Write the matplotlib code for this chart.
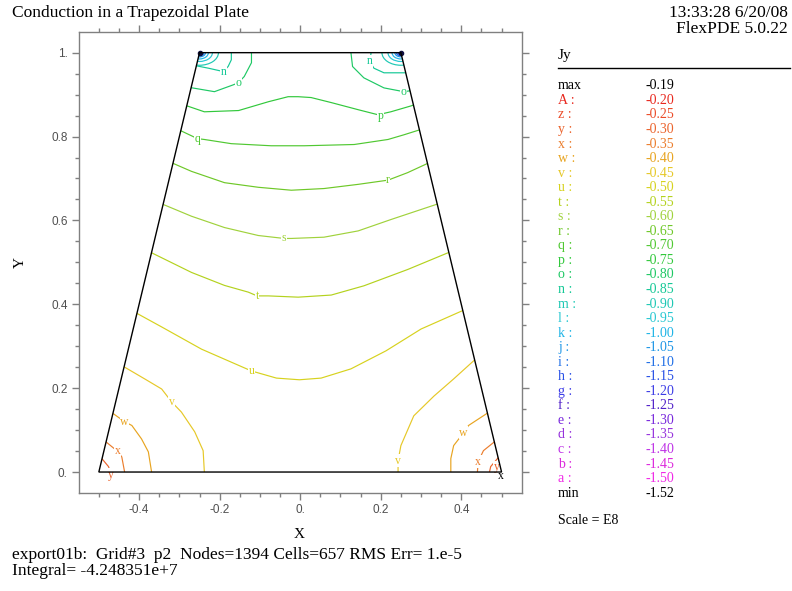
import matplotlib
matplotlib.use("Agg")
import matplotlib.pyplot as plt
from matplotlib.patches import Polygon, Ellipse
from matplotlib.lines import Line2D

# contour levels of Jy (scale E8)
level_names = ["A", "z", "y", "x", "w", "v", "u", "t", "s", "r", "q", "p", "o",
               "n", "m", "l", "k", "j", "i", "h", "g", "f", "e", "d", "c", "b", "a"]
level_values = ["-0.20", "-0.25", "-0.30", "-0.35", "-0.40", "-0.45", "-0.50",
                "-0.55", "-0.60", "-0.65", "-0.70", "-0.75", "-0.80", "-0.85",
                "-0.90", "-0.95", "-1.00", "-1.05", "-1.10", "-1.15", "-1.20",
                "-1.25", "-1.30", "-1.35", "-1.40", "-1.45", "-1.50"]
level_colors = ["#e8281e", "#eb4b28", "#eb642d", "#eb7d2d", "#e8a420", "#e6c828",
                "#d7d21e", "#b4d21e", "#a0d23c", "#6ec828", "#50c832", "#32c83c",
                "#1ec864", "#14c896", "#1ec8b4", "#28c8d2", "#1eb4e6", "#1e96e6",
                "#1e6ee6", "#2850e6", "#3c3ce6", "#5020c8", "#7828dc", "#9632dc",
                "#be32e6", "#dc28dc", "#f028e6"]
jy_max = "-0.19"
jy_min = "-1.52"

# plate outline
plate_x = [-0.5, 0.5, 0.25, -0.25]
plate_y = [0.0, 0.0, 1.0, 1.0]

# contour lines (x, y)
line_p = [(-0.29, 0.876), (-0.238, 0.859), (-0.153, 0.862), (-0.079, 0.883), (-0.030, 0.895),
          (-0.005, 0.895), (0.027, 0.893), (0.077, 0.881), (0.144, 0.864), (0.193, 0.852),
          (0.225, 0.859), (0.275, 0.873), (0.30, 0.881)]
line_q = [(-0.31, 0.82), (-0.255, 0.795), (-0.238, 0.793), (-0.171, 0.783), (-0.072, 0.778),
          (0.010, 0.778), (0.134, 0.781), (0.218, 0.793), (0.257, 0.804), (0.31, 0.82)]
line_r = [(-0.33, 0.742), (-0.270, 0.717), (-0.188, 0.690), (-0.104, 0.679), (-0.022, 0.672),
          (0.059, 0.676), (0.144, 0.686), (0.218, 0.696), (0.267, 0.714), (0.33, 0.742)]
line_s = [(-0.35, 0.642), (-0.270, 0.610), (-0.188, 0.583), (-0.104, 0.564), (-0.040, 0.557),
          (-0.022, 0.557), (0.059, 0.560), (0.144, 0.575), (0.225, 0.602), (0.35, 0.642)]
line_t = [(-0.38, 0.528), (-0.270, 0.476), (-0.188, 0.445), (-0.129, 0.429), (-0.107, 0.420),
          (-0.079, 0.420), (-0.005, 0.417), (0.077, 0.422), (0.158, 0.444), (0.267, 0.483),
          (0.38, 0.528)]
line_u = [(-0.42, 0.386), (-0.344, 0.346), (-0.245, 0.293), (-0.121, 0.241), (-0.059, 0.224),
          (-0.002, 0.220), (0.052, 0.224), (0.126, 0.246), (0.213, 0.289), (0.300, 0.341),
          (0.42, 0.392)]
line_v_left = [(-0.45, 0.258), (-0.386, 0.222), (-0.344, 0.198), (-0.319, 0.167), (-0.295, 0.143),
               (-0.262, 0.096), (-0.241, 0.051), (-0.238, 0.0)]
line_v_right = [(0.45, 0.282), (0.381, 0.222), (0.332, 0.181), (0.282, 0.134), (0.250, 0.063),
                (0.243, 0.027), (0.243, 0.0)]
line_w_left = [(-0.48, 0.150), (-0.436, 0.120), (-0.418, 0.111), (-0.394, 0.079),
               (-0.377, 0.048), (-0.369, 0.0)]
line_w_right = [(0.48, 0.150), (0.418, 0.111), (0.406, 0.094), (0.381, 0.063),
                (0.374, 0.032), (0.374, 0.0)]
line_x_left = [(-0.49, 0.078), (-0.453, 0.049), (-0.443, 0.036), (-0.436, 0.0)]
line_x_right = [(0.49, 0.078), (0.455, 0.051), (0.442, 0.025), (0.440, 0.0)]
line_y_left = [(-0.495, 0.035), (-0.476, 0.013), (-0.471, 0.0)]
line_y_right = [(0.495, 0.038), (0.473, 0.013), (0.470, 0.0)]
line_n_left = [(-0.265, 0.970), (-0.228, 0.963), (-0.191, 0.955), (-0.179, 0.967),
               (-0.171, 0.983), (-0.171, 1.0)]
line_n_right = [(0.176, 1.0), (0.173, 0.979), (0.183, 0.963), (0.208, 0.952), (0.265, 0.952)]
line_o_left = [(-0.28, 0.918), (-0.213, 0.907), (-0.167, 0.923), (-0.154, 0.928),
               (-0.139, 0.943), (-0.121, 0.976), (-0.121, 1.0)]
line_o_right = [(0.126, 1.0), (0.130, 0.967), (0.158, 0.940), (0.208, 0.916),
                (0.257, 0.907), (0.28, 0.910)]

contour_lines = [("p", line_p), ("q", line_q), ("r", line_r), ("s", line_s), ("t", line_t),
                 ("u", line_u), ("v", line_v_left), ("v", line_v_right), ("w", line_w_left),
                 ("w", line_w_right), ("x", line_x_left), ("x", line_x_right),
                 ("y", line_y_left), ("y", line_y_right), ("n", line_n_left),
                 ("n", line_n_right), ("o", line_o_left), ("o", line_o_right)]

# contour labels (letter, x, y)
line_labels = [("n", -0.191, 0.955), ("o", -0.154, 0.928), ("n", 0.173, 0.979),
               ("o", 0.257, 0.907), ("p", 0.200, 0.849), ("q", -0.255, 0.795),
               ("r", 0.218, 0.696), ("s", -0.040, 0.557), ("t", -0.107, 0.420),
               ("u", -0.121, 0.241), ("v", -0.319, 0.167), ("v", 0.243, 0.027),
               ("w", -0.436, 0.120), ("w", 0.406, 0.094), ("x", -0.453, 0.049),
               ("x", 0.442, 0.025), ("y", -0.470, -0.006), ("y", 0.487, 0.012)]

# small closed rings at the two top corners
corner_levels = ["m", "l", "k", "j", "i", "h", "g", "f"]
corner_rx = [0.047, 0.032, 0.022, 0.015, 0.011, 0.0075, 0.005, 0.003]
corner_ry = [0.030, 0.021, 0.015, 0.010, 0.0075, 0.005, 0.0035, 0.002]
corner_x = [-0.25, 0.25]
corner_y = [1.0, 1.0]

level_color = dict(zip(level_names, level_colors))
#----------------------------------------------------------------------------

W, H = 792, 591
fig = plt.figure(figsize=(W / 100, H / 100), dpi=100)
serif = ["Liberation Serif", "DejaVu Serif"]

def ftext(x, y, s, **kw):
    kw.setdefault("family", serif)
    fig.text(x / W, 1 - y / H, s, **kw)

ax = fig.add_axes([78.7 / W, 1 - 493 / H, 443 / W, 461.3 / H])
ax.set_xlim(-0.55, 0.55)
ax.set_ylim(-0.05, 1.05)

plate = Polygon(list(zip(plate_x, plate_y)), closed=True, fill=False,
                edgecolor="black", lw=1.0, zorder=5)
ax.add_patch(plate)
clip = Polygon(list(zip(plate_x, plate_y)), closed=True, transform=ax.transData)

for name, pts in contour_lines:
    xs = [p[0] for p in pts]
    ys = [p[1] for p in pts]
    ln, = ax.plot(xs, ys, color=level_color[name], lw=0.85, zorder=2)
    ln.set_clip_path(clip)

for cx, cy in zip(corner_x, corner_y):
    for name, rx, ry in zip(corner_levels, corner_rx, corner_ry):
        e = Ellipse((cx, cy), 2 * rx, 2 * ry, fill=False,
                    edgecolor=level_color[name], lw=0.85, zorder=2)
        ax.add_patch(e)
        e.set_clip_path(clip)
    ax.plot(cx, cy, "o", color="#101040", ms=3, zorder=3)

for name, lx, ly in line_labels:
    ax.text(lx, ly, name, color=level_color[name], fontsize=8.5, family=serif,
            ha="center", va="center", zorder=4,
            bbox=dict(facecolor="white", edgecolor="none", pad=0.3))
ax.text(0.499, -0.009, "x", color="black", fontsize=8.5, family=serif,
        ha="center", va="center", zorder=6)

# axes styling
for sp in ax.spines.values():
    sp.set_color("#808080")
    sp.set_linewidth(1.0)
ax.set_xticks([-0.4, -0.2, 0.0, 0.2, 0.4])
ax.set_xticklabels(["-0.4", "-0.2", "0.", "0.2", "0.4"])
ax.set_yticks([0.0, 0.2, 0.4, 0.6, 0.8, 1.0])
ax.set_yticklabels(["0.", "0.2", "0.4", "0.6", "0.8", "1."])
ax.set_xticks([-0.5, -0.45, -0.35, -0.3, -0.25, -0.15, -0.1, -0.05, 0.05, 0.1, 0.15,
               0.25, 0.3, 0.35, 0.45, 0.5], minor=True)
ax.set_yticks([0.05, 0.1, 0.15, 0.25, 0.3, 0.35, 0.45, 0.5, 0.55, 0.65, 0.7, 0.75,
               0.85, 0.9, 0.95], minor=True)
ax.tick_params(which="both", direction="out", color="#808080", width=1,
               top=True, right=True, labelcolor="#505050", labelsize=8.5)
ax.tick_params(which="major", length=5, pad=3)
ax.tick_params(which="minor", length=3)
for lab in ax.get_xticklabels() + ax.get_yticklabels():
    lab.set_family(["Liberation Sans", "DejaVu Sans"])

ftext(299, 535, "X", fontsize=11, ha="center", va="center")
ftext(20, 263, "Y", fontsize=11, ha="center", va="center", rotation=90)

# header
ftext(12, 17.3, "Conduction in a Trapezoidal Plate", fontsize=12.5, va="baseline")
ftext(788, 17.3, "13:33:28 6/20/08", fontsize=12.5, ha="right", va="baseline")
ftext(788, 33.3, "FlexPDE 5.0.22", fontsize=12.5, ha="right", va="baseline")

# legend of levels
ftext(558, 59.3, "Jy", fontsize=11, va="baseline")
fig.add_artist(Line2D([558 / W, 790 / W], [1 - 67.7 / H, 1 - 67.7 / H],
                      transform=fig.transFigure, color="black", lw=1))
rows = [("max", jy_max, "black")]
rows += [(n + " :", v, c) for n, v, c in zip(level_names, level_values, level_colors)]
rows += [("min", jy_min, "black")]
step = (496.7 - 89.3) / (len(rows) - 1)
for i, (lab, val, col) in enumerate(rows):
    yb = 89.3 + i * step
    ftext(558, yb, lab, fontsize=10, color=col, va="baseline")
    ftext(645, yb, val, fontsize=10, color=col, va="baseline")
ftext(558, 524, "Scale = E8", fontsize=10, va="baseline")

# footer
ftext(12, 559, "export01b:  Grid#3  p2  Nodes=1394 Cells=657 RMS Err= 1.e-5",
      fontsize=12.5, va="baseline")
ftext(12, 575, "Integral= -4.248351e+7", fontsize=12.5, va="baseline")

fig.savefig("out.png", dpi=100)
